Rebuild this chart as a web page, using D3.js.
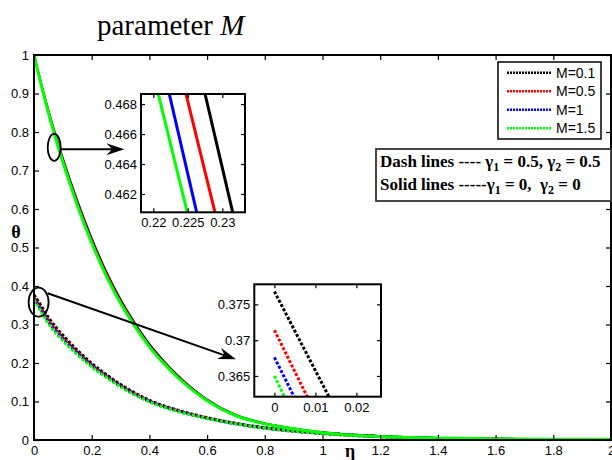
<!DOCTYPE html>
<html>
<head>
<meta charset="utf-8">
<script src="https://cdn.jsdelivr.net/npm/d3@7"></script>
<style>
  body { margin: 0; background: #fff; }
  svg { display: block; }
</style>
</head>
<body>
<div id="root"></div>
<script>
// ---- data read off the picture ----
const mLabels = ["M=0.1", "M=0.5", "M=1", "M=1.5"]
const mColors = ["#000000", "#ff0000", "#0000ff", "#00ff00"]

// solid lines: gamma1 = 0, gamma2 = 0
const etaSolid = [0, 0.025, 0.05, 0.1, 0.15, 0.2, 0.25, 0.3, 0.35, 0.4, 0.45, 0.5, 0.6, 0.7, 0.8, 0.9, 1.0, 1.1, 1.2, 1.4, 1.6, 1.8, 2.0]
const solidM01 = [1, 0.925, 0.856, 0.732, 0.622, 0.524, 0.438, 0.365, 0.303, 0.249, 0.205, 0.166, 0.105, 0.065, 0.043, 0.030, 0.020, 0.014, 0.010, 0.005, 0.003, 0.002, 0.002]
const solidM05 = [1, 0.924, 0.854, 0.728, 0.617, 0.519, 0.434, 0.361, 0.300, 0.246, 0.202, 0.164, 0.104, 0.064, 0.043, 0.029, 0.019, 0.013, 0.009, 0.005, 0.003, 0.002, 0.002]
const solidM1 = [1, 0.923, 0.851, 0.724, 0.613, 0.515, 0.430, 0.357, 0.297, 0.244, 0.200, 0.162, 0.103, 0.063, 0.042, 0.029, 0.019, 0.013, 0.009, 0.005, 0.003, 0.002, 0.002]
const solidM15 = [1, 0.922, 0.850, 0.722, 0.610, 0.512, 0.427, 0.355, 0.295, 0.242, 0.199, 0.161, 0.102, 0.063, 0.042, 0.029, 0.019, 0.013, 0.009, 0.005, 0.003, 0.002, 0.002]

// dash lines: gamma1 = 0.5, gamma2 = 0.5
const etaDash = [0, 0.025, 0.05, 0.1, 0.15, 0.2, 0.25, 0.3, 0.35, 0.4, 0.5, 0.6, 0.7, 0.8, 0.9, 1.0, 1.1, 1.2, 1.4, 1.6, 1.8, 2.0]
const dashM01 = [0.377, 0.348, 0.318, 0.272, 0.233, 0.199, 0.170, 0.144, 0.122, 0.103, 0.077, 0.058, 0.043, 0.032, 0.024, 0.018, 0.013, 0.009, 0.004, 0.002, 0.001, 0]
const dashM05 = [0.371, 0.341, 0.311, 0.266, 0.229, 0.195, 0.167, 0.141, 0.120, 0.101, 0.076, 0.057, 0.043, 0.031, 0.023, 0.017, 0.012, 0.009, 0.004, 0.002, 0.001, 0]
const dashM1 = [0.368, 0.337, 0.306, 0.262, 0.226, 0.193, 0.165, 0.140, 0.118, 0.100, 0.075, 0.056, 0.042, 0.031, 0.023, 0.017, 0.012, 0.009, 0.004, 0.002, 0.001, 0]
const dashM15 = [0.365, 0.333, 0.302, 0.258, 0.222, 0.190, 0.163, 0.138, 0.117, 0.099, 0.074, 0.056, 0.042, 0.031, 0.023, 0.017, 0.012, 0.009, 0.004, 0.002, 0.001, 0]

// zoom inset 1 (solid lines), two ends of each segment
const inset1Theta = [0.46867, 0.46078]
const inset1EtaM01 = [0.22750, 0.23151]
const inset1EtaM05 = [0.22474, 0.22894]
const inset1EtaM1 = [0.22232, 0.22629]
const inset1EtaM15 = [0.22072, 0.22493]

// zoom inset 2 (dash lines)
const inset2Eta = [[0, 0.0133], [0, 0.0080], [0, 0.0048], [0, 0.00244]]
const inset2Theta = [[0.3768, 0.3621], [0.3714, 0.3621], [0.3676, 0.3621], [0.3650, 0.3621]]

// tick values
const xTicks = [0, 0.2, 0.4, 0.6, 0.8, 1, 1.2, 1.4, 1.6, 1.8, 2]
const yTicks = [0, 0.1, 0.2, 0.3, 0.4, 0.5, 0.6, 0.7, 0.8, 0.9, 1]
const inset1XTicks = [0.22, 0.225, 0.23]
const inset1YTicks = [0.462, 0.464, 0.466, 0.468]
const inset2XTicks = [0, 0.01, 0.02]
const inset2YTicks = [0.365, 0.37, 0.375]

const sansFont = "'Liberation Sans', Arial, sans-serif"
const serifFont = "'Liberation Serif', 'Times New Roman', serif"

function drawChart() {
  const ROOT_ELEM = d3.select("#root")
  ROOT_ELEM.selectAll("*").remove()

  const dimension = {
    width: 612,
    height: 460,
    margin: { top: 55, right: 1, bottom: 20, left: 34 },
  }
  const { width, height, margin } = dimension
  dimension.boundedWidth = width - margin.left - margin.right
  dimension.boundedHeight = height - margin.top - margin.bottom

  const wrapper = ROOT_ELEM.append("svg")
    .attr("width", width)
    .attr("height", height)
    .style("font-family", sansFont)

  wrapper.append("rect").attr("width", width).attr("height", height).attr("fill", "#fff")

  const bounds = wrapper.append("g")
    .attr("transform", `translate(${margin.left},${margin.top})`)

  const xScale = d3.scaleLinear().domain([0, 2]).range([0, dimension.boundedWidth])
  const yScale = d3.scaleLinear().domain([0, 1]).range([dimension.boundedHeight, 0])

  wrapper.append("defs").append("clipPath").attr("id", "plotClip")
    .append("rect")
    .attr("width", dimension.boundedWidth)
    .attr("height", dimension.boundedHeight)

  const solidSeries = [solidM01, solidM05, solidM1, solidM15]
  const dashSeries = [dashM01, dashM05, dashM1, dashM15]

  const lineGen = d3.line()
    .x(d => xScale(d[0]))
    .y(d => yScale(d[1]))
    .curve(d3.curveMonotoneX)

  const curves = bounds.append("g").attr("clip-path", "url(#plotClip)")

  dashSeries.forEach((vals, i) => {
    curves.append("path")
      .datum(etaDash.map((e, j) => [e, vals[j]]))
      .attr("d", lineGen)
      .attr("fill", "none")
      .attr("stroke", mColors[i])
      .attr("stroke-width", 3)
      .attr("stroke-dasharray", "3,1.8")
  })

  solidSeries.forEach((vals, i) => {
    curves.append("path")
      .datum(etaSolid.map((e, j) => [e, vals[j]]))
      .attr("d", lineGen)
      .attr("fill", "none")
      .attr("stroke", mColors[i])
      .attr("stroke-width", i === 3 ? 3 : 2)
  })

  // axes, ticks pointing inward like matlab
  const fmt = d => String(d)
  const styleAxis = g => {
    g.select(".domain").remove()
    g.selectAll(".tick line").attr("stroke", "#000").attr("stroke-width", 1.2)
    g.selectAll(".tick text").attr("fill", "#000").style("font-family", sansFont).style("font-size", "13px")
  }

  bounds.append("g")
    .attr("transform", `translate(0,${dimension.boundedHeight})`)
    .call(d3.axisBottom(xScale).tickValues(xTicks).tickFormat(fmt).tickSize(-5).tickPadding(6))
    .call(styleAxis)
  bounds.append("g")
    .call(d3.axisTop(xScale).tickValues(xTicks).tickFormat("").tickSize(-5))
    .call(styleAxis)
  bounds.append("g")
    .call(d3.axisLeft(yScale).tickValues(yTicks).tickFormat(fmt).tickSize(-5).tickPadding(5))
    .call(styleAxis)
  bounds.append("g")
    .attr("transform", `translate(${dimension.boundedWidth},0)`)
    .call(d3.axisRight(yScale).tickValues(yTicks).tickFormat("").tickSize(-5))
    .call(styleAxis)

  bounds.append("rect")
    .attr("width", dimension.boundedWidth)
    .attr("height", dimension.boundedHeight)
    .attr("fill", "none")
    .attr("stroke", "#000")
    .attr("stroke-width", 2)

  // axis labels and title
  wrapper.append("text")
    .attr("x", 16).attr("y", 238)
    .attr("text-anchor", "middle")
    .attr("font-family", serifFont).attr("font-weight", "bold").attr("font-size", 18)
    .text("θ")
  wrapper.append("text")
    .attr("x", 350).attr("y", 457)
    .attr("text-anchor", "middle")
    .attr("font-family", serifFont).attr("font-weight", "bold").attr("font-size", 18)
    .text("η")

  const title = wrapper.append("text")
    .attr("x", 97).attr("y", 35)
    .attr("font-family", serifFont).attr("font-size", 29)
  title.append("tspan").text("parameter ")
  title.append("tspan").attr("font-style", "italic").text("M")

  // circles and arrows (positions in data units)
  const annot = bounds.append("g")
  const ellipse = (eta, theta, rx, ry) => annot.append("ellipse")
    .attr("cx", xScale(eta)).attr("cy", yScale(theta))
    .attr("rx", rx).attr("ry", ry)
    .attr("fill", "none").attr("stroke", "#000").attr("stroke-width", 1.8)
  ellipse(0.07, 0.76, 6.5, 13.5)
  ellipse(0.016, 0.358, 10, 14.5)

  const arrow = (e1, t1, e2, t2) => {
    const x1 = xScale(e1), y1 = yScale(t1), x2 = xScale(e2), y2 = yScale(t2)
    const a = Math.atan2(y2 - y1, x2 - x1)
    const ux = Math.cos(a), uy = Math.sin(a)
    const len = 18, half = 6, notch = 6
    annot.append("line")
      .attr("x1", x1).attr("y1", y1)
      .attr("x2", x2 - ux * (len - notch)).attr("y2", y2 - uy * (len - notch))
      .attr("stroke", "#000").attr("stroke-width", 2)
    const pts = [
      [x2, y2],
      [x2 - ux * len - uy * half, y2 - uy * len + ux * half],
      [x2 - ux * (len - notch), y2 - uy * (len - notch)],
      [x2 - ux * len + uy * half, y2 - uy * len - ux * half],
    ]
    annot.append("path")
      .attr("d", "M" + pts.map(p => p.join(",")).join("L") + "Z")
      .attr("fill", "#000")
  }
  arrow(0.09, 0.755, 0.313, 0.755)
  arrow(0.0475, 0.381, 0.700, 0.2096)

  // ---- inset 1 ----
  const in1 = { x: 141, y: 94, w: 104, h: 118.3 }
  const in1X = d3.scaleLinear().domain([0.21822, 0.23329]).range([0, in1.w])
  const in1Y = d3.scaleLinear().domain([0.46078, 0.46867]).range([in1.h, 0])
  const g1 = wrapper.append("g").attr("transform", `translate(${in1.x},${in1.y})`)
  g1.append("rect").attr("width", in1.w).attr("height", in1.h).attr("fill", "#fff")
  wrapper.select("defs").append("clipPath").attr("id", "in1Clip")
    .append("rect").attr("width", in1.w).attr("height", in1.h)
  const in1Line = d3.line().x(d => in1X(d[0])).y(d => in1Y(d[1]))
  const in1Series = [inset1EtaM01, inset1EtaM05, inset1EtaM1, inset1EtaM15]
  const c1 = g1.append("g").attr("clip-path", "url(#in1Clip)")
  in1Series.forEach((etas, i) => {
    c1.append("path")
      .datum(etas.map((e, j) => [e, inset1Theta[j]]))
      .attr("d", in1Line)
      .attr("fill", "none")
      .attr("stroke", mColors[i])
      .attr("stroke-width", 3)
  })
  g1.append("g").attr("transform", `translate(0,${in1.h})`)
    .call(d3.axisBottom(in1X).tickValues(inset1XTicks).tickFormat(fmt).tickSize(-4).tickPadding(5))
    .call(styleAxis)
  g1.append("g")
    .call(d3.axisTop(in1X).tickValues(inset1XTicks).tickFormat("").tickSize(-4))
    .call(styleAxis)
  g1.append("g")
    .call(d3.axisLeft(in1Y).tickValues(inset1YTicks).tickFormat(fmt).tickSize(-4).tickPadding(4))
    .call(styleAxis)
  g1.append("g").attr("transform", `translate(${in1.w},0)`)
    .call(d3.axisRight(in1Y).tickValues(inset1YTicks).tickFormat("").tickSize(-4))
    .call(styleAxis)
  g1.append("rect").attr("width", in1.w).attr("height", in1.h)
    .attr("fill", "none").attr("stroke", "#000").attr("stroke-width", 2)

  // ---- inset 2 ----
  const in2 = { x: 254.3, y: 284.3, w: 126.7, h: 112.4 }
  const in2X = d3.scaleLinear().domain([-0.0049, 0.0260]).range([0, in2.w])
  const in2Y = d3.scaleLinear().domain([0.3621, 0.3778]).range([in2.h, 0])
  const g2 = wrapper.append("g").attr("transform", `translate(${in2.x},${in2.y})`)
  g2.append("rect").attr("width", in2.w).attr("height", in2.h).attr("fill", "#fff")
  wrapper.select("defs").append("clipPath").attr("id", "in2Clip")
    .append("rect").attr("width", in2.w).attr("height", in2.h)
  const in2Line = d3.line().x(d => in2X(d[0])).y(d => in2Y(d[1]))
  const c2 = g2.append("g").attr("clip-path", "url(#in2Clip)")
  inset2Eta.forEach((etas, i) => {
    c2.append("path")
      .datum(etas.map((e, j) => [e, inset2Theta[i][j]]))
      .attr("d", in2Line)
      .attr("fill", "none")
      .attr("stroke", mColors[i])
      .attr("stroke-width", 3)
      .attr("stroke-dasharray", "3,1.8")
  })
  g2.append("g").attr("transform", `translate(0,${in2.h})`)
    .call(d3.axisBottom(in2X).tickValues(inset2XTicks).tickFormat(fmt).tickSize(-4).tickPadding(6))
    .call(styleAxis)
  g2.append("g")
    .call(d3.axisTop(in2X).tickValues(inset2XTicks).tickFormat("").tickSize(-4))
    .call(styleAxis)
  g2.append("g")
    .call(d3.axisLeft(in2Y).tickValues(inset2YTicks).tickFormat(fmt).tickSize(-4).tickPadding(4))
    .call(styleAxis)
  g2.append("g").attr("transform", `translate(${in2.w},0)`)
    .call(d3.axisRight(in2Y).tickValues(inset2YTicks).tickFormat("").tickSize(-4))
    .call(styleAxis)
  g2.append("rect").attr("width", in2.w).attr("height", in2.h)
    .attr("fill", "none").attr("stroke", "#000").attr("stroke-width", 2)

  // ---- legend ----
  const legend = wrapper.append("g").attr("transform", "translate(498,62)")
  legend.append("rect").attr("width", 103).attr("height", 77)
    .attr("fill", "#fff").attr("stroke", "#000").attr("stroke-width", 1.5)
  mLabels.forEach((lab, i) => {
    const ly = 10.7 + i * 18.5
    legend.append("line")
      .attr("x1", 9).attr("x2", 53).attr("y1", ly).attr("y2", ly)
      .attr("stroke", mColors[i]).attr("stroke-width", 2.5)
      .attr("stroke-dasharray", "2,1")
    legend.append("text")
      .attr("x", 58).attr("y", ly + 4.8)
      .attr("font-size", 14)
      .text(lab)
  })

  // ---- note box ----
  const note = wrapper.append("g").attr("transform", "translate(376,149)")
  note.append("rect").attr("width", 235).attr("height", 52)
    .attr("fill", "#fff").attr("stroke", "#333").attr("stroke-width", 1.8)
  const noteLines = [
    ["Dash lines ---- ", "1", " = 0.5, ", "2", " = 0.5"],
    ["Solid lines -----", "1", " = 0,  ", "2", " = 0"],
  ]
  noteLines.forEach((parts, i) => {
    const t = note.append("text")
      .attr("x", 4).attr("y", 18 + i * 22.5)
      .attr("font-family", serifFont).attr("font-weight", "bold").attr("font-size", 17)
      .attr("xml:space", "preserve")
    t.append("tspan").text(parts[0] + "γ")
    t.append("tspan").attr("dy", 4).attr("font-size", 12).text(parts[1])
    t.append("tspan").attr("dy", -4).text(parts[2] + "γ")
    t.append("tspan").attr("dy", 4).attr("font-size", 12).text(parts[3])
    t.append("tspan").attr("dy", -4).text(parts[4])
  })
}

drawChart()
</script>
</body>
</html>
